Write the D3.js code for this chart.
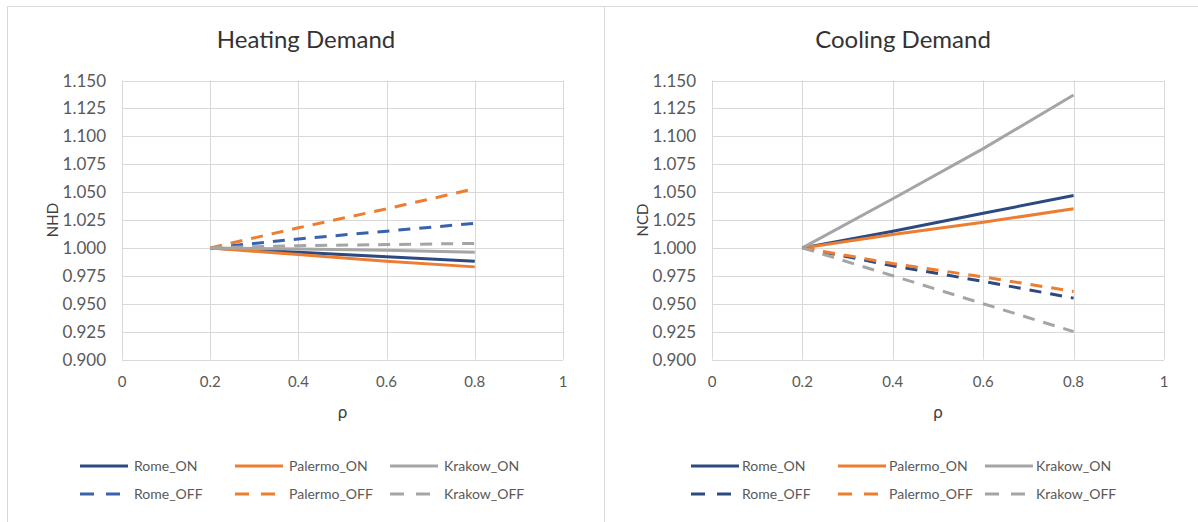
<!DOCTYPE html>
<html>
<head>
<meta charset="utf-8">
<script src="https://cdn.jsdelivr.net/npm/d3@7"></script>
<style>
  body { margin: 0; background: #fff; }
  text { font-family: Lato, "Open Sans", sans-serif; }
</style>
</head>
<body>
<div id="chart"></div>
<script>
// rho values on the x axis
var rho = [0.2, 0.4, 0.6, 0.8];
var xTicks = [0, 0.2, 0.4, 0.6, 0.8, 1];
var yTicks = [0.900, 0.925, 0.950, 0.975, 1.000, 1.025, 1.050, 1.075, 1.100, 1.125, 1.150];

var seriesNames = ["Rome_ON", "Palermo_ON", "Krakow_ON", "Rome_OFF", "Palermo_OFF", "Krakow_OFF"];

// Heating demand (NHD)
var heatRomeOn = [1.000, 0.996, 0.992, 0.988];
var heatPalermoOn = [1.000, 0.994, 0.988, 0.983];
var heatKrakowOn = [1.000, 0.999, 0.998, 0.996];
var heatRomeOff = [1.000, 1.008, 1.015, 1.022];
var heatPalermoOff = [1.000, 1.018, 1.035, 1.053];
var heatKrakowOff = [1.000, 1.002, 1.003, 1.004];

// Cooling demand (NCD)
var coolRomeOn = [1.000, 1.015, 1.031, 1.047];
var coolPalermoOn = [1.000, 1.012, 1.023, 1.035];
var coolKrakowOn = [1.000, 1.044, 1.089, 1.137];
var coolRomeOff = [1.000, 0.984, 0.970, 0.955];
var coolPalermoOff = [1.000, 0.986, 0.974, 0.961];
var coolKrakowOff = [1.000, 0.975, 0.950, 0.925];

var W = 1198, H = 522;
var svg = d3.select("#chart").append("svg")
    .attr("width", W).attr("height", H);

// outer frame lines
var frame = "#d9d9d9";
svg.append("line").attr("x1", 7).attr("x2", W).attr("y1", 6.5).attr("y2", 6.5).attr("stroke", frame);
svg.append("line").attr("x1", 7.5).attr("x2", 7.5).attr("y1", 6).attr("y2", H).attr("stroke", frame);
svg.append("line").attr("x1", 604.5).attr("x2", 604.5).attr("y1", 6).attr("y2", H).attr("stroke", frame);

function drawPanel(cfg) {
    var x = d3.scaleLinear().domain([0, 1]).range([cfg.left, cfg.right]);
    var y = d3.scaleLinear().domain([0.9, 1.15]).range([359.5, 80.5]);
    var g = svg.append("g");

    // title
    g.append("text")
        .attr("x", cfg.center).attr("y", 48)
        .attr("text-anchor", "middle")
        .attr("font-size", 24).attr("fill", "#333")
        .text(cfg.title);

    // grid
    g.selectAll(".hg").data(yTicks).enter().append("line")
        .attr("x1", x(0)).attr("x2", x(1))
        .attr("y1", function(d) { return Math.round(y(d)) + 0.5; })
        .attr("y2", function(d) { return Math.round(y(d)) + 0.5; })
        .attr("stroke", "#d9d9d9");
    g.selectAll(".vg").data(xTicks).enter().append("line")
        .attr("x1", function(d) { return Math.round(x(d)) + 0.5; })
        .attr("x2", function(d) { return Math.round(x(d)) + 0.5; })
        .attr("y1", y(1.15)).attr("y2", y(0.9))
        .attr("stroke", "#d9d9d9");

    // tick labels
    g.selectAll(".yl").data(yTicks).enter().append("text")
        .attr("x", x(0) - 16).attr("y", function(d) { return y(d) + 6; })
        .attr("text-anchor", "end").attr("font-size", 17).attr("fill", "#595959")
        .text(function(d) { return d3.format(".3f")(d); });
    g.selectAll(".xl").data(xTicks).enter().append("text")
        .attr("x", function(d) { return x(d); }).attr("y", 387)
        .attr("text-anchor", "middle").attr("font-size", 15).attr("fill", "#595959")
        .text(function(d) { return d; });

    // axis titles
    g.append("text")
        .attr("transform", "translate(" + (cfg.left - 16) + ",220) rotate(-90)")
        .attr("x", 0).attr("y", -48)
        .attr("text-anchor", "middle").attr("font-size", 15).attr("fill", "#404040")
        .text(cfg.yLabel);
    g.append("text")
        .attr("x", (cfg.left + cfg.right) / 2).attr("y", 418)
        .attr("text-anchor", "middle").attr("font-size", 17).attr("fill", "#404040")
        .text("ρ");

    // lines
    var line = d3.line()
        .x(function(d, i) { return x(rho[i]); })
        .y(function(d) { return y(d); });

    cfg.series.forEach(function(s) {
        g.append("path")
            .datum(s.values)
            .attr("fill", "none")
            .attr("stroke", s.color)
            .attr("stroke-width", 3)
            .attr("stroke-dasharray", s.dashed ? "12,9" : null)
            .attr("d", line);
    });

    // legend
    var lg = g.append("g");
    cfg.series.forEach(function(s, i) {
        var col = i % 3, row = Math.floor(i / 3);
        var lx = cfg.legendX + col * cfg.legendStep;
        var ly = 466 + row * 28;
        lg.append("line")
            .attr("x1", lx).attr("x2", lx + 48)
            .attr("y1", ly).attr("y2", ly)
            .attr("stroke", s.color).attr("stroke-width", 3)
            .attr("stroke-dasharray", s.dashed ? "14,12" : null);
        lg.append("text")
            .attr("x", lx + 48 + cfg.legendGap).attr("y", ly + 5)
            .attr("font-size", 14).attr("fill", "#595959")
            .text(seriesNames[i]);
    });
}

drawPanel({
    title: "Heating Demand", yLabel: "NHD",
    left: 122, right: 563, center: 306,
    legendX: 80, legendStep: 155, legendGap: 6,
    series: [
        { values: heatRomeOn, color: "#2c4a80", dashed: false },
        { values: heatPalermoOn, color: "#ed7d31", dashed: false },
        { values: heatKrakowOn, color: "#a5a5a5", dashed: false },
        { values: heatRomeOff, color: "#3a62ab", dashed: true },
        { values: heatPalermoOff, color: "#ed7d31", dashed: true },
        { values: heatKrakowOff, color: "#a5a5a5", dashed: true }
    ]
});

drawPanel({
    title: "Cooling Demand", yLabel: "NCD",
    left: 712, right: 1164, center: 903,
    legendX: 691, legendStep: 147, legendGap: 3,
    series: [
        { values: coolRomeOn, color: "#2c4a80", dashed: false },
        { values: coolPalermoOn, color: "#ed7d31", dashed: false },
        { values: coolKrakowOn, color: "#a5a5a5", dashed: false },
        { values: coolRomeOff, color: "#2c4a80", dashed: true },
        { values: coolPalermoOff, color: "#ed7d31", dashed: true },
        { values: coolKrakowOff, color: "#a5a5a5", dashed: true }
    ]
});
</script>
</body>
</html>
